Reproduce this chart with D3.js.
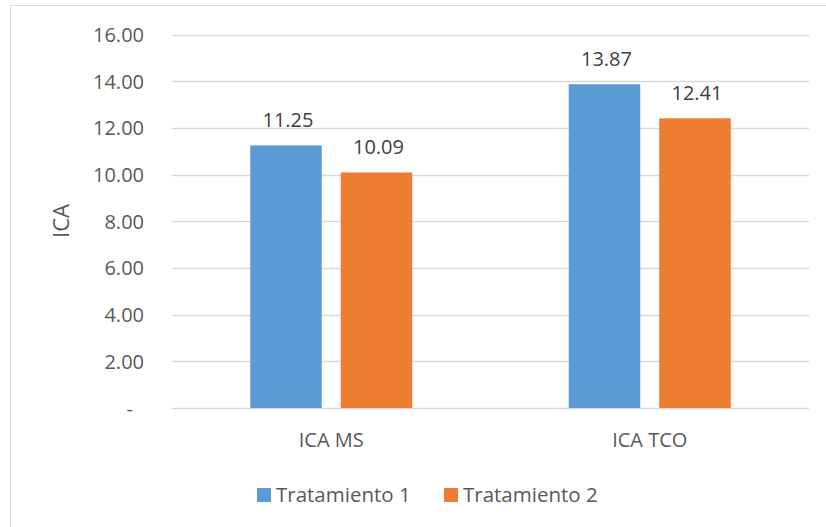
<!DOCTYPE html>
<html>
<head>
<meta charset="utf-8">
<script src="https://cdn.jsdelivr.net/npm/d3@7"></script>
<style>
  html, body { margin: 0; padding: 0; background: #fff; }
  svg { display: block; font-family: "Open Sans", "Liberation Sans", sans-serif; }
</style>
</head>
<body>
<svg id="chart" width="826" height="527"></svg>
<script>
// Feed conversion index (ICA) per treatment
const categories = ["ICA MS", "ICA TCO"];
const seriesNames = ["Tratamiento 1", "Tratamiento 2"];
const tratamiento1 = [11.25, 13.87];
const tratamiento2 = [10.09, 12.41];
const yTicks = [0, 2, 4, 6, 8, 10, 12, 14, 16];
const yTitle = "ICA";

const colors = ["#5b9bd5", "#ed7d31"];
const seriesValues = [tratamiento1, tratamiento2];

const svg = d3.select("#chart");

// chart frame
svg.append("rect")
  .attr("x", 10.5).attr("y", 5.5)
  .attr("width", 840).attr("height", 560)
  .attr("fill", "#fff").attr("stroke", "#d9d9d9").attr("stroke-width", 1);

const plot = { left: 172, right: 809, top: 34.5, bottom: 408 };

const y = d3.scaleLinear().domain([0, 16]).range([plot.bottom, plot.top]);

const x0 = d3.scaleBand()
  .domain(categories)
  .range([plot.left, plot.right])
  .paddingInner(0.4914)
  .paddingOuter(0.2457);

const x1 = d3.scaleBand()
  .domain(seriesNames)
  .range([0, x0.bandwidth()])
  .paddingInner(0.21);

// horizontal gridlines
svg.append("g")
  .selectAll("line")
  .data(yTicks)
  .join("line")
  .attr("x1", plot.left).attr("x2", plot.right)
  .attr("y1", d => Math.round(y(d)) + 0.5)
  .attr("y2", d => Math.round(y(d)) + 0.5)
  .attr("stroke", "#d9d9d9")
  .attr("stroke-width", 1.3);

// y axis labels
const yAxis = d3.axisLeft(y)
  .tickValues(yTicks)
  .tickSize(0)
  .tickPadding(0)
  .tickFormat(d => d === 0 ? "-" : d3.format(".2f")(d));

const yAxisG = svg.append("g")
  .attr("transform", `translate(144,0)`)
  .call(yAxis);
yAxisG.select(".domain").remove();
yAxisG.selectAll("text")
  .attr("fill", "#595959")
  .attr("font-size", 20)
  .attr("dy", "0.35em")
  .attr("dx", d => d === 0 ? -11 : 0)
  .style("font-family", "\"Open Sans\", sans-serif");

// y axis title
svg.append("text")
  .attr("transform", "translate(69,221) rotate(-90)")
  .attr("text-anchor", "middle")
  .attr("fill", "#595959")
  .attr("font-size", 22)
  .text(yTitle);

// bars
const groups = svg.append("g")
  .selectAll("g")
  .data(categories)
  .join("g")
  .attr("transform", d => `translate(${x0(d)},0)`);

groups.selectAll("rect")
  .data((d, i) => seriesNames.map((s, j) => ({ s, j, v: seriesValues[j][i] })))
  .join("rect")
  .attr("x", d => x1(d.s))
  .attr("width", x1.bandwidth())
  .attr("y", d => y(d.v))
  .attr("height", d => y(0) - y(d.v))
  .attr("fill", d => colors[d.j]);

// value labels
groups.selectAll("text.value")
  .data((d, i) => seriesNames.map((s, j) => ({ s, j, v: seriesValues[j][i] })))
  .join("text")
  .attr("class", "value")
  .attr("x", d => x1(d.s) + x1.bandwidth() / 2 + 2)
  .attr("y", d => y(d.v) - 18.5)
  .attr("text-anchor", "middle")
  .attr("fill", "#404040")
  .attr("font-size", 20)
  .text(d => d3.format(".2f")(d.v));

// category labels
const xAxis = d3.axisBottom(x0).tickSize(0).tickPadding(0);
const xAxisG = svg.append("g")
  .attr("transform", `translate(0,${plot.bottom})`)
  .call(xAxis);
xAxisG.select(".domain").remove();
xAxisG.selectAll("text")
  .attr("y", 39)
  .attr("dy", 0)
  .attr("fill", "#595959")
  .attr("font-size", 20)
  .style("font-family", "\"Open Sans\", sans-serif");

// legend
const legendItems = [
  { name: seriesNames[0], color: colors[0], x: 257 },
  { name: seriesNames[1], color: colors[1], x: 444 }
];
const legend = svg.append("g")
  .selectAll("g")
  .data(legendItems)
  .join("g")
  .attr("transform", d => `translate(${d.x},488)`);
legend.append("rect")
  .attr("width", 14).attr("height", 14)
  .attr("fill", d => d.color);
legend.append("text")
  .attr("x", 19).attr("y", 14)
  .attr("fill", "#595959")
  .attr("font-size", 20.5)
  .text(d => d.name);
</script>
</body>
</html>
